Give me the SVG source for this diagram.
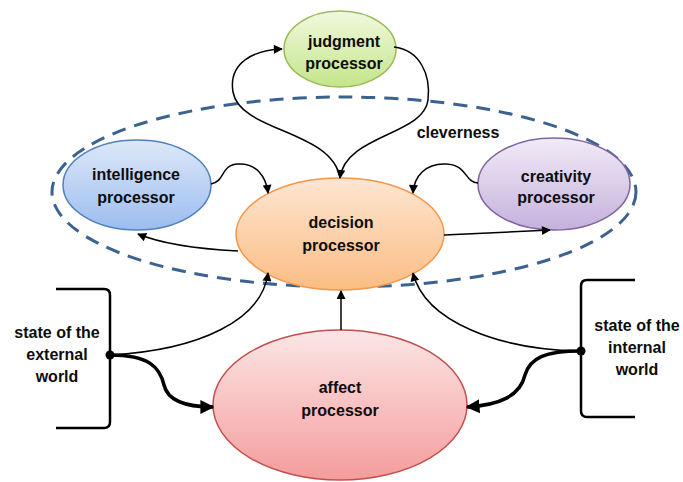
<svg xmlns="http://www.w3.org/2000/svg" width="683" height="482" viewBox="0 0 683 482">
  <defs>
    <linearGradient id="gGreen" x1="0" y1="0" x2="0" y2="1">
      <stop offset="0" stop-color="#f1f9df"/><stop offset="1" stop-color="#c4e58a"/>
    </linearGradient>
    <linearGradient id="gBlue" x1="0" y1="0" x2="0" y2="1">
      <stop offset="0" stop-color="#dde8f8"/><stop offset="1" stop-color="#9cbdf0"/>
    </linearGradient>
    <linearGradient id="gPurple" x1="0" y1="0" x2="0" y2="1">
      <stop offset="0" stop-color="#f1ebf7"/><stop offset="1" stop-color="#c5b1dc"/>
    </linearGradient>
    <linearGradient id="gOrange" x1="0" y1="0" x2="0" y2="1">
      <stop offset="0" stop-color="#fde6d2"/><stop offset="1" stop-color="#fbbd83"/>
    </linearGradient>
    <linearGradient id="gRed" x1="0" y1="0" x2="0" y2="1">
      <stop offset="0" stop-color="#fde6e6"/><stop offset="1" stop-color="#f49c9c"/>
    </linearGradient>
    <marker id="arr" viewBox="0 0 10 10" refX="9" refY="5" markerWidth="10" markerHeight="9" markerUnits="userSpaceOnUse" orient="auto">
      <path d="M0,0 L10,5 L0,10 z" fill="#000"/>
    </marker>
    <marker id="arrBig" viewBox="0 0 10 10" refX="9" refY="5" markerWidth="4" markerHeight="4" orient="auto">
      <path d="M0,0 L10,5 L0,10 z" fill="#000"/>
    </marker>
  </defs>
  <style>
    text { font-family: "Liberation Sans", Arial, sans-serif; font-weight: bold; font-size: 16px; fill: #0d0d0d; text-anchor: middle; }
    .thin { fill: none; stroke: #000; stroke-width: 1.5; }
    .thick { fill: none; stroke: #000; stroke-width: 3.5; }
    .bracket { fill: none; stroke: #000; stroke-width: 2.5; }
  </style>
  <rect width="683" height="482" fill="#fff"/>

  <!-- cleverness boundary -->
  <g id="cleverness">
    <ellipse cx="344" cy="192" rx="292" ry="95" fill="none" stroke="#3c6290" stroke-width="3" stroke-dasharray="14 9"/>
    <text x="458" y="138">cleverness</text>
  </g>

  <g id="judgment">
    <ellipse cx="340" cy="49" rx="56" ry="38" fill="url(#gGreen)" stroke="#9bbb59" stroke-width="1.5"/>
    <text x="344" y="47">judgment</text>
    <text x="344" y="69">processor</text>
  </g>

  <g id="intelligence">
    <ellipse cx="137" cy="185" rx="74" ry="45" fill="url(#gBlue)" stroke="#4f81bd" stroke-width="1.5"/>
    <text x="136" y="180">intelligence</text>
    <text x="136" y="203">processor</text>
  </g>

  <g id="creativity">
    <ellipse cx="554" cy="184" rx="76" ry="46" fill="url(#gPurple)" stroke="#8064a2" stroke-width="1.5"/>
    <text x="556" y="182">creativity</text>
    <text x="556" y="203">processor</text>
  </g>

  <g id="decision">
    <ellipse cx="340" cy="234" rx="104" ry="56" fill="url(#gOrange)" stroke="#f79646" stroke-width="1.5"/>
    <text x="341" y="228">decision</text>
    <text x="341" y="251">processor</text>
  </g>

  <g id="affect">
    <ellipse cx="340" cy="405" rx="127" ry="75" fill="url(#gRed)" stroke="#c0504d" stroke-width="1.5"/>
    <text x="340" y="393">affect</text>
    <text x="340" y="416">processor</text>
  </g>

  <g id="external">
    <path class="bracket" d="M56,289 L104,289 Q110,289 110,295 L110,422 Q110,428 104,428 L56,428"/>
    <circle cx="110" cy="355" r="4.5" fill="#000"/>
    <text x="57" y="338">state of the</text>
    <text x="57" y="360">external</text>
    <text x="57" y="382">world</text>
  </g>

  <g id="internal">
    <path class="bracket" d="M635,280 L587,280 Q581,280 581,286 L581,411 Q581,417 587,417 L635,417"/>
    <circle cx="581" cy="351" r="4.5" fill="#000"/>
    <text x="637" y="331">state of the</text>
    <text x="637" y="353">internal</text>
    <text x="637" y="375">world</text>
  </g>

  <g id="connectors">
    <!-- judgment loop -->
    <path class="thin" marker-end="url(#arr)" d="M340,178 C332,130 240,132 233,92 C228,62 255,50 282,49"/>
    <path class="thin" marker-end="url(#arr)" d="M394,47 C420,50 431,75 428,100 C424,135 345,135 340,178"/>
    <!-- side processors into decision -->
    <path class="thin" marker-end="url(#arr)" d="M211,184 C226,181 220,165 238,164 C256,163 266,176 268,193"/>
    <path class="thin" marker-end="url(#arr)" d="M478,183 C464,182 468,165 446,164 C426,163 414,176 413,193"/>
    <!-- decision out to side processors -->
    <path class="thin" marker-end="url(#arr)" d="M238,251 C200,249 162,244 138,234"/>
    <path class="thin" marker-end="url(#arr)" d="M444,235 L550,230"/>
    <!-- affect up to decision -->
    <path class="thin" stroke-width="2.5" marker-end="url(#arr)" d="M341,330 L341,291"/>
    <!-- external world -->
    <path class="thin" marker-end="url(#arr)" d="M110,355 C200,350 262,320 268,273"/>
    <path class="thick" marker-end="url(#arrBig)" d="M110,355 C150,355 160,368 164,385 C168,402 190,407 213,407"/>
    <!-- internal world -->
    <path class="thin" marker-end="url(#arr)" d="M581,351 C500,350 425,322 413,273"/>
    <path class="thick" marker-end="url(#arrBig)" d="M581,351 C545,351 530,358 525,375 C520,396 500,405 467,407"/>
  </g>
</svg>
